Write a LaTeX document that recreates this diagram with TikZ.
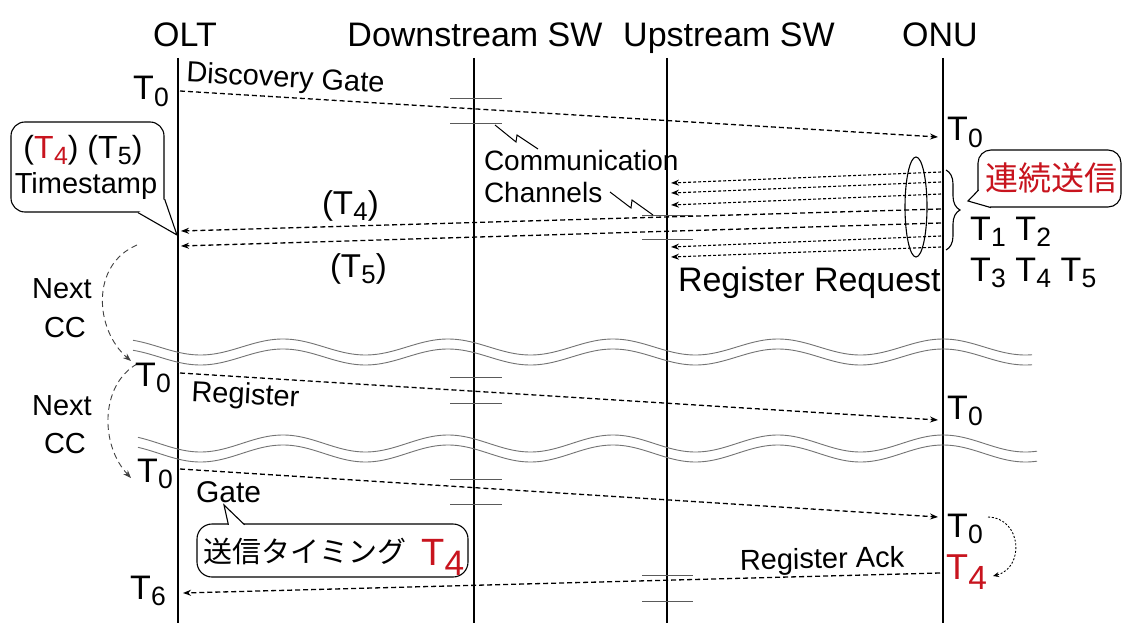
\documentclass[tikz,border=0pt]{standalone}
\usepackage{fontspec}
\setmainfont{Liberation Sans}
\newfontfamily\jfont{Noto Sans CJK JP}
\usetikzlibrary{arrows.meta,decorations.pathreplacing}
\definecolor{tred}{RGB}{200,20,30}
\definecolor{wavegray}{RGB}{115,115,115}
\definecolor{tickgray}{RGB}{90,90,90}
\newcommand{\fs}[1]{\fontsize{#1}{#1}\selectfont}
\newcommand{\Tn}[1]{T\kern0.01em\raisebox{-0.2em}{\scalebox{0.78}{#1}}}
\newcommand{\Tb}[1]{T\kern0.01em\raisebox{-0.28em}{\scalebox{0.93}{#1}}}
\begin{document}
\begin{tikzpicture}[x=1pt,y=-1pt,
  txt/.style={inner sep=0pt,outer sep=0pt,anchor=base west},
  hdr/.style={inner sep=0pt,outer sep=0pt,anchor=base,font=\fs{34}},
  lab/.style={txt,font=\fs{29}},
  tlab/.style={txt,font=\fs{34}},
  life/.style={line width=1.8pt},
  tip/.style={-{Stealth[length=8pt,width=6pt]}},
  msg/.style={tip,line width=1.3pt,dash pattern=on 5pt off 3pt},
  smsg/.style={tip,line width=1.1pt,dash pattern=on 3pt off 2pt},
  cc/.style={line width=0.9pt,dash pattern=on 6pt off 4pt,color=black!75,-{Stealth[length=8pt,width=6pt]}},
  tick/.style={line width=1pt,color=tickgray},
  bolt/.style={line width=1pt},
  wave/.style={line width=0.9pt,color=wavegray},
  cbox/.style={line width=1.1pt,rounded corners=14pt}
]
\useasboundingbox (0,0) rectangle (1124,623);
\fill[white] (0,0) rectangle (1124,623);

% headers
\node[hdr] (h-olt) at (185,47) {OLT};
\node[hdr] (h-ds) at (475,47) {Downstream SW};
\node[hdr] (h-us) at (729,47) {Upstream SW};
\node[hdr] (h-onu) at (940,47) {ONU};

% lifelines
\coordinate (olt-t) at (178,58); \coordinate (olt-b) at (178,623);
\coordinate (ds-t) at (474,58); \coordinate (ds-b) at (474,623);
\coordinate (us-t) at (667,58); \coordinate (us-b) at (667,623);
\coordinate (onu-t) at (943,58); \coordinate (onu-b) at (943,623);
\draw[life] (olt-t) -- (olt-b);
\draw[life] (ds-t) -- (ds-b);
\draw[life] (us-t) -- (us-b);
\draw[life] (onu-t) -- (onu-b);

% ticks (communication channels)
\foreach \y in {99,124,377,403,479,504} \draw[tick] (450,\y) -- (502,\y);
\foreach \y in {215,239,575,601} \draw[tick] (642,\y) -- (693,\y);

% lightning bolts
\draw[bolt] (495,125) -- (516,142) -- (517,135) -- (538,149);
\draw[bolt] (610,192) -- (631,208) -- (632,200) -- (653,215);

% waves
\draw[wave] plot[domain=133:1032,samples=300] (\x,{347-8*cos(2.1818*(\x-283))});
\draw[wave] plot[domain=133:1032,samples=300] (\x,{357-8*cos(2.1818*(\x-283))});
\draw[wave] plot[domain=138:1037,samples=300] (\x,{443.5-8.5*cos(2.1818*(\x-283))});
\draw[wave] plot[domain=138:1037,samples=300] (\x,{453.5-8.5*cos(2.1818*(\x-283))});

% message end points
\coordinate (dg-s) at (180,91); \coordinate (dg-e) at (938,137);
\coordinate (rr1-s) at (941,172); \coordinate (rr1-e) at (671,183);
\coordinate (rr2-s) at (941,182); \coordinate (rr2-e) at (671,193);
\coordinate (rr3-s) at (941,194); \coordinate (rr3-e) at (671,205);
\coordinate (rrA-s) at (941,209); \coordinate (rrA-e) at (181,231);
\coordinate (rrB-s) at (941,223); \coordinate (rrB-e) at (181,246);
\coordinate (rr4-s) at (941,236); \coordinate (rr4-e) at (671,247);
\coordinate (rr5-s) at (941,247); \coordinate (rr5-e) at (671,257);
\coordinate (reg-s) at (180,373); \coordinate (reg-e) at (938,420);
\coordinate (gate-s) at (180,469); \coordinate (gate-e) at (938,517);
\coordinate (ack-s) at (940,573); \coordinate (ack-e) at (183,593);

\draw[msg] (dg-s) -- (dg-e);
\draw[smsg] (rr1-s) -- (rr1-e);
\draw[smsg] (rr2-s) -- (rr2-e);
\draw[smsg] (rr3-s) -- (rr3-e);
\draw[msg] (rrA-s) -- (rrA-e);
\draw[msg] (rrB-s) -- (rrB-e);
\draw[smsg] (rr4-s) -- (rr4-e);
\draw[smsg] (rr5-s) -- (rr5-e);
\draw[msg] (reg-s) -- (reg-e);
\draw[msg] (gate-s) -- (gate-e);
\draw[msg] (ack-s) -- (ack-e);

% ellipse and brace at ONU
\draw[line width=1.1pt] (916,207) ellipse [x radius=11pt, y radius=50pt];
\draw[line width=1.1pt,decorate,decoration={brace,amplitude=14pt}] (946,170) -- (946,250);

% labels
\node[lab,rotate=-3] (l-dg) at (186,82) {Discovery Gate};
\node[tlab] (t0a) at (133,100) {\Tn{0}};
\node[tlab] (t0b) at (947,141) {\Tn{0}};
\node[txt,font=\fs{28}] (l-comm) at (484,171) {Communication};
\node[txt,font=\fs{28}] (l-chan) at (484,202) {Channels};
\node[txt,font=\fs{33}] (l-t4) at (322,214) {(\Tn{4})};
\node[txt,font=\fs{33}] (l-t5) at (330,277) {(\Tn{5})};
\node[txt,font=\fs{34}] (l-rr) at (678,291) {Register Request};
\node[tlab] (t12) at (970,240) {\Tn{1} \Tn{2}};
\node[tlab] (t345) at (970,281) {\Tn{3} \Tn{4} \Tn{5}};

% callout: renzoku soushin
\draw[cbox,rounded corners=13pt] (978,150) rectangle (1121,207);
\coordinate (rz-tip) at (968,201);
\fill[white] (978.6,190) -- (rz-tip) -- (991,207.6) -- cycle;
\draw[line width=1.1pt] (978.6,190) -- (rz-tip) -- (991,207.6);
\node[inner sep=0pt,font=\jfont\fs{33},text=tred] (rz) at (1051,178) {連続送信};

% callout: timestamp
\draw[cbox] (11,122) rectangle (164,212);
\coordinate (ts-tip) at (177,235);
\fill[white] (164.6,199) -- (ts-tip) -- (138,212.6) -- cycle;
\draw[line width=1.1pt] (164.6,199) -- (ts-tip) -- (138,212.6);
\node[inner sep=0pt,anchor=base,font=\fs{32}] (ts1) at (83,158) {(\textcolor{tred}{\Tn{4}}) (\Tn{5})};
\node[inner sep=0pt,anchor=base,font=\fs{29}] (ts2) at (86,193) {Timestamp};

% Next CC
\node[inner sep=0pt,anchor=base,font=\fs{29}] (n1) at (62,298) {Next};
\node[inner sep=0pt,anchor=base,font=\fs{29}] (c1) at (65,337) {CC};
\node[inner sep=0pt,anchor=base,font=\fs{29}] (n2) at (62,415) {Next};
\node[inner sep=0pt,anchor=base,font=\fs{29}] (c2) at (65,453) {CC};
\coordinate (cc1-s) at (137,245); \coordinate (cc1-e) at (131,361);
\coordinate (cc2-s) at (137,364); \coordinate (cc2-e) at (131,478);
\draw[cc] (cc1-s) .. controls (90,265) and (95,330) .. (cc1-e);
\draw[cc] (cc2-s) .. controls (100,385) and (100,445) .. (cc2-e);

% register
\node[tlab] (t0c) at (135,386) {\Tn{0}};
\node[lab,rotate=-3] (l-reg) at (191,401) {Register};
\node[tlab] (t0d) at (947,419) {\Tn{0}};

% gate
\node[tlab] (t0e) at (137,482) {\Tn{0}};
\node[txt,font=\fs{30}] (l-gate) at (196,502) {Gate};
\node[tlab] (t0f) at (947,537) {\Tn{0}};
\node[txt,font=\fs{36},text=tred] (t4onu) at (946,579) {\Tb{4}};
\coordinate (lp-s) at (988,517); \coordinate (lp-e) at (993,576);
\draw[line width=0.9pt,dash pattern=on 2pt off 1.8pt,-{Stealth[length=6pt,width=5pt]}] (lp-s) .. controls (1022,518) and (1025,568) .. (lp-e);

% callout: timing
\draw[cbox,rounded corners=15pt] (197,524) rectangle (468,577);
\coordinate (tm-tip) at (224,505);
\fill[white] (228.4,524.8) -- (tm-tip) -- (244.6,524.8) -- cycle;
\draw[line width=1.1pt] (228.4,524.8) -- (tm-tip) -- (244.6,524.8);
\node[txt,font=\jfont\fs{29}] (tm) at (203,562) {送信タイミング};
\node[txt,font=\fs{38},text=tred] (tm4) at (421,565) {\Tb{4}};

% register ack
\node[lab,rotate=1] (l-ack) at (740,570) {Register Ack};
\node[tlab] (t6) at (130,599) {\Tn{6}};
\end{tikzpicture}
\end{document}
